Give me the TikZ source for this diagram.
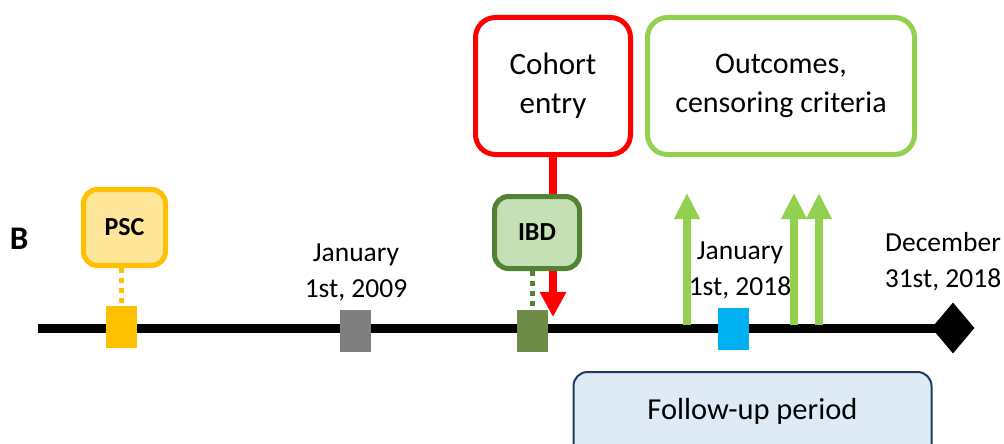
\documentclass[tikz,border=0pt]{standalone}
\usepackage{fontspec}
\setmainfont{Carlito}
\usetikzlibrary{arrows.meta,shapes.geometric}
\definecolor{pscor}{HTML}{FFC000}
\definecolor{pscfill}{HTML}{FFE699}
\definecolor{ibdline}{HTML}{548235}
\definecolor{ibdfill}{HTML}{C5E0B4}
\definecolor{ibdsq}{HTML}{6E8B47}
\definecolor{greysq}{HTML}{7F7F7F}
\definecolor{bluesq}{HTML}{00B0F0}
\definecolor{outgreen}{HTML}{92D050}
\definecolor{fuline}{HTML}{203864}
\definecolor{fufill}{HTML}{DEEBF7}
\definecolor{cored}{HTML}{FF0000}
\tikzset{
  bigbox/.style={draw, line width=5pt, rounded corners=20pt, fill=white, inner sep=0pt, align=center, font=\fontsize{31}{39}\selectfont},
  smallbox/.style={draw, line width=5pt, rounded corners=14pt, inner sep=0pt, align=center, font=\bfseries\fontsize{26}{30}\selectfont},
  marker/.style={rectangle, inner sep=0pt, minimum width=31pt, minimum height=42pt},
  datelabel/.style={align=center, inner sep=0pt, font=\fontsize{27.5}{36}\selectfont},
  uparrow/.style={outgreen, line width=8pt, -{Triangle[width=24pt,length=26pt]}},
  dotline/.style={line width=5pt, dash pattern=on 5pt off 5pt}
}
\begin{document}
\begin{tikzpicture}[x=1pt,y=-1pt]
\clip (0,0) rectangle (1004,444);
\fill[white] (0,0) rectangle (1004,444);

% boxes on top
\node[bigbox, draw=cored, minimum width=155pt, minimum height=137pt] (cohort) at (553,86) {Cohort\\entry};
\node[bigbox, draw=outgreen, minimum width=267pt, minimum height=137pt, font=\fontsize{30}{39}\selectfont] (outcomes) at (781,86) {Outcomes,\\censoring criteria};

% panel label
\node[font=\bfseries\fontsize{33}{38}\selectfont, inner sep=0pt] (lblB) at (19,239) {B};

% follow-up period
\node[draw=fuline, fill=fufill, line width=2pt, rounded corners=14pt, minimum width=358pt, minimum height=110pt, anchor=north, inner sep=0pt] (follow) at (752.5,371) {};
\node[font=\fontsize{30.5}{36}\selectfont, inner sep=0pt] (followtxt) at (752.5,411) {Follow-up period};

% date labels
\node[datelabel] (d2009) at (356,272) {January\\1st, 2009};
\node[datelabel] (d2018) at (740,270) {January\\1st, 2018};
\node[datelabel] (d2018end) at (943,262) {December\\31st, 2018};

% timeline
\coordinate (tstart) at (38,328);
\node[diamond, fill=black, inner sep=0pt, minimum width=43pt, minimum height=51pt] (tend) at (953,328) {};
\draw[line width=9pt] (tstart) -- (tend.center);

% red arrow (behind IBD box)
\coordinate (redtip) at (553,317);
\draw[cored, line width=8pt, -{Triangle[width=25pt,length=25pt]}] (cohort.south) -- (redtip);

% PSC and IBD boxes
\node[smallbox, draw=pscor, fill=pscfill, minimum width=82pt, minimum height=76pt] (psc) at (124.5,227.5) {PSC};
\node[smallbox, draw=ibdline, fill=ibdfill, minimum width=85pt, minimum height=72pt] (ibd) at (537,232.5) {IBD};

% markers
\node[marker, fill=pscor] (mpsc) at (121.5,327) {};
\node[marker, fill=greysq] (m2009) at (355.5,331) {};
\node[marker, fill=ibdsq] (mibd) at (532.5,331) {};
\node[marker, fill=bluesq] (m2018) at (733,328.5) {};

% dotted connectors
\draw[dotline, pscor] (psc.south -| mpsc.north) -- (mpsc.north);
\draw[dotline, ibdline, line width=4.5pt] (ibd.south -| mibd.north) -- (mibd.north);

% outcome arrows
\coordinate (a1s) at (687,325);
\coordinate (a1e) at (687,193);
\coordinate (a2s) at (794,325);
\coordinate (a2e) at (794,193);
\coordinate (a3s) at (819,325);
\coordinate (a3e) at (819,193);
\draw[uparrow] (a1s) -- (a1e);
\draw[uparrow] (a2s) -- (a2e);
\draw[uparrow] (a3s) -- (a3e);
\end{tikzpicture}
\end{document}
